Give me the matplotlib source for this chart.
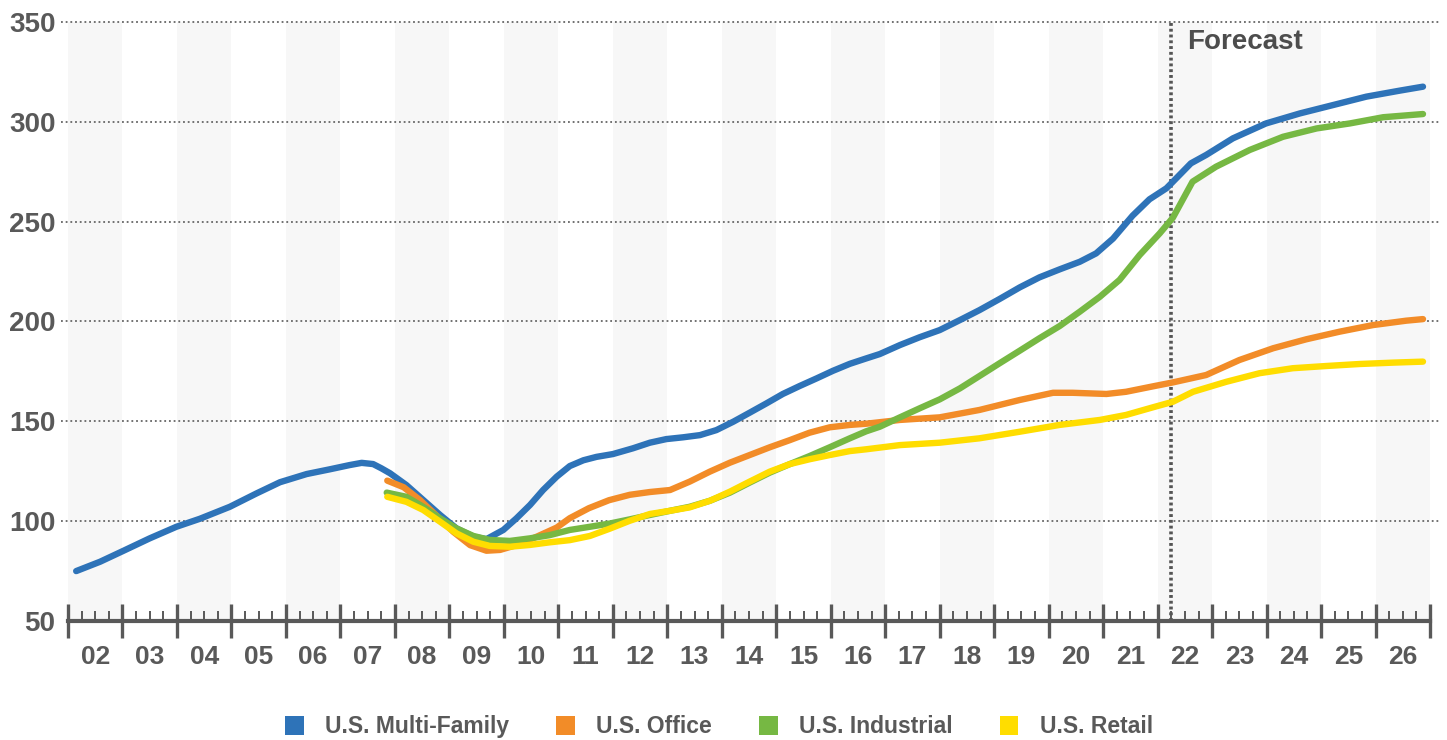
import matplotlib
matplotlib.use('Agg')
import matplotlib.pyplot as plt
from matplotlib.patches import Patch
from matplotlib.ticker import MultipleLocator

plt.rcParams['font.family'] = ['Liberation Sans', 'DejaVu Sans']
plt.rcParams['font.weight'] = 'bold'

TXT = '#595959'

# price index series (x = fractional year)
mf_years = [2002.15, 2002.59, 2003.02, 2003.5, 2003.99, 2004.42, 2004.97, 2005.46, 2005.89,
            2006.38, 2006.81, 2007.17, 2007.39, 2007.6, 2007.75, 2007.91, 2008.21, 2008.52,
            2008.83, 2009.13, 2009.44, 2009.68, 2009.99, 2010.23, 2010.48, 2010.72, 2010.97,
            2011.21, 2011.46, 2011.7, 2012.0, 2012.37, 2012.68, 2012.98, 2013.29, 2013.6,
            2013.9, 2014.21, 2014.51, 2014.82, 2015.12, 2015.43, 2015.74, 2016.04, 2016.35,
            2016.65, 2016.9, 2017.27, 2017.63, 2018.0, 2018.37, 2018.73, 2019.1, 2019.47,
            2019.83, 2020.2, 2020.57, 2020.87, 2021.18, 2021.54, 2021.85, 2022.16, 2022.28,
            2022.61, 2022.89, 2023.38, 2023.99, 2024.61, 2025.22, 2025.83, 2026.44, 2026.87]
mf_vals = [75, 79.7, 85.2, 91.4, 97.2, 101.2, 107.2, 113.9, 119.5,
           123.6, 126, 128.1, 129.2, 128.6, 126.5, 124, 118.1, 110.6,
           103.1, 96.4, 92.2, 91, 95.6, 101.4, 108.1, 115.6, 122.3,
           127.6, 130.5, 132.2, 133.6, 136.5, 139.3, 141.1, 142, 143.1,
           145.6, 149.8, 154.3, 159, 163.7, 167.7, 171.5, 175.3, 178.8,
           181.5, 183.7, 188.2, 192.1, 195.7, 200.7, 205.7, 211.3, 217.1,
           222.1, 226.1, 229.9, 234.1, 241.5, 253, 261.2, 266.7, 270,
           279.2, 283.4, 291.7, 299.2, 304.2, 308.4, 312.6, 315.6, 317.6]

off_years = [2007.86, 2008.16, 2008.46, 2008.77, 2009.07, 2009.38, 2009.68, 2009.93, 2010.23,
             2010.6, 2010.97, 2011.21, 2011.56, 2011.93, 2012.31, 2012.68, 2013.05, 2013.41,
             2013.78, 2014.15, 2014.51, 2014.88, 2015.25, 2015.61, 2015.98, 2016.35, 2016.65,
             2017.27, 2018.0, 2018.73, 2019.47, 2020.08, 2020.44, 2021.06, 2021.42, 2021.91,
             2022.28, 2022.89, 2023.5, 2024.12, 2024.73, 2025.34, 2025.95, 2026.56, 2026.87]
off_vals = [120.3, 117, 110.6, 102.6, 94.7, 88, 85.2, 85.6, 88,
            92.2, 96.8, 101.5, 106.5, 110.5, 113.2, 114.6, 115.6, 119.8,
            124.8, 129.3, 133.1, 137, 140.6, 144.3, 147, 148.2, 148.8,
            150.7, 152, 155.7, 160.7, 164.3, 164.3, 163.7, 164.8, 167.5,
            169.5, 173.2, 180.7, 186.6, 191.1, 194.9, 198.2, 200.4, 201.2]

ind_years = [2007.85, 2008.21, 2008.52, 2008.83, 2009.13, 2009.44, 2009.74, 2010.11, 2010.48,
             2010.84, 2011.21, 2011.58, 2011.94, 2012.31, 2012.68, 2013.05, 2013.41, 2013.78,
             2014.15, 2014.51, 2014.88, 2015.25, 2015.61, 2015.98, 2016.35, 2016.65, 2016.9,
             2017.27, 2017.63, 2018.0, 2018.37, 2018.73, 2019.1, 2019.47, 2019.83, 2020.2,
             2020.57, 2020.94, 2021.3, 2021.67, 2022.04, 2022.28, 2022.64, 2023.07, 2023.69,
             2024.3, 2024.92, 2025.53, 2026.14, 2026.87]
ind_vals = [114.3, 112.2, 107.2, 101.4, 96.4, 92.6, 90.6, 90.1, 91.4,
            93, 95.6, 97.2, 98.8, 100.9, 103.1, 105.2, 107.2, 110.2,
            114.3, 119.3, 124.3, 128.6, 132.6, 137, 141.5, 145, 147.3,
            152, 156.5, 161, 166.5, 172.7, 179.1, 185.4, 191.6, 197.7,
            204.9, 212.4, 220.8, 233.3, 244.2, 252, 270, 277.5, 285.9,
            292.5, 296.7, 299.2, 302.3, 303.9]

ret_years = [2007.86, 2008.21, 2008.52, 2008.83, 2009.13, 2009.44, 2009.74, 2010.11, 2010.48,
             2010.84, 2011.21, 2011.58, 2011.94, 2012.31, 2012.68, 2013.05, 2013.41, 2013.78,
             2014.15, 2014.51, 2014.88, 2015.25, 2015.61, 2015.98, 2016.35, 2016.65, 2017.27,
             2018.0, 2018.73, 2019.47, 2020.2, 2020.94, 2021.42, 2021.91, 2022.28, 2022.65,
             2023.26, 2023.87, 2024.48, 2025.09, 2025.7, 2026.32, 2026.87]
ret_vals = [112.2, 109.7, 105.6, 99.7, 93.9, 89.7, 87.6, 87.2, 88.1,
            89.4, 90.5, 92.6, 96.2, 100.2, 103.6, 105.2, 106.9, 110.2,
            114.8, 119.8, 124.8, 128.6, 131, 133.1, 135.1, 136, 138.1,
            139.3, 141.5, 144.8, 148.2, 150.7, 153.2, 157, 159.8, 164.8,
            169.8, 174.1, 176.6, 177.7, 178.7, 179.4, 179.9]

series = [
    ('U.S. Multi-Family', mf_years, mf_vals, '#2e73b8'),
    ('U.S. Office', off_years, off_vals, '#f28c28'),
    ('U.S. Industrial', ind_years, ind_vals, '#76b843'),
    ('U.S. Retail', ret_years, ret_vals, '#ffdd00'),
]

year_labels = ['02', '03', '04', '05', '06', '07', '08', '09', '10', '11', '12', '13',
               '14', '15', '16', '17', '18', '19', '20', '21', '22', '23', '24', '25', '26']
first_year = 2002
forecast_start = 2022.25
y_ticks = [50, 100, 150, 200, 250, 300, 350]

fig = plt.figure(figsize=(14.47, 7.40), dpi=100)
ax = fig.add_axes([0.047, 0.1608, 0.9413, 0.8095])

n_years = len(year_labels)
ax.set_xlim(first_year, first_year + n_years)
ax.set_ylim(50, 350)

# alternating light bands, one per year
for i in range(0, n_years, 2):
    ax.axvspan(first_year + i, first_year + i + 1, color='#f7f7f7', zorder=0, lw=0)

# dotted horizontal grid
for v in y_ticks[1:]:
    ax.axhline(v, xmin=-0.005, xmax=1.007, color='#666666', lw=1.3,
               ls=(0, (1, 1.6)), zorder=1, clip_on=False)

for name, xs, ys, col in series:
    ax.plot(xs, ys, color=col, lw=4.6, solid_capstyle='round',
            solid_joinstyle='round', zorder=3, label=name)

# forecast divider
ax.axvline(forecast_start, color='#555555', lw=2.6, ls=(0, (0.8, 0.8)), zorder=2)
ax.text(forecast_start + 0.3, 340, 'Forecast', fontsize=20, fontweight='bold',
        color='#4d4d4d', va='center', ha='left')

for s in ['top', 'right', 'left']:
    ax.spines[s].set_visible(False)
ax.spines['bottom'].set_color(TXT)
ax.spines['bottom'].set_linewidth(3)

ax.set_yticks(y_ticks)
ax.set_yticklabels([str(v) for v in y_ticks], fontsize=20, fontweight='bold', color=TXT)
ax.tick_params(axis='y', length=0, pad=9)

ax.set_xticks([first_year + i for i in range(n_years + 1)])
ax.set_xticklabels([])
ax.xaxis.set_minor_locator(MultipleLocator(0.25))
ax.tick_params(axis='x', which='major', direction='inout', length=24, width=2.4, color=TXT)
ax.tick_params(axis='x', which='minor', direction='in', length=7, width=1.4, color=TXT)

for i, lab in enumerate(year_labels):
    ax.text(first_year + i + 0.5, -0.06, lab, transform=ax.get_xaxis_transform(),
            ha='center', va='center', fontsize=19, fontweight='bold', color=TXT)

handles = [Patch(facecolor=col, edgecolor='none', label=name) for name, _, _, col in series]
leg = fig.legend(handles=handles, loc='center', bbox_to_anchor=(0.497, 0.018), ncol=4,
                 frameon=False, fontsize=16.5, handlelength=0.8, handleheight=0.9,
                 handletextpad=0.95, columnspacing=2.05)
for t in leg.get_texts():
    t.set_color(TXT)
    t.set_fontweight('bold')

fig.savefig('out.png', dpi=100)
